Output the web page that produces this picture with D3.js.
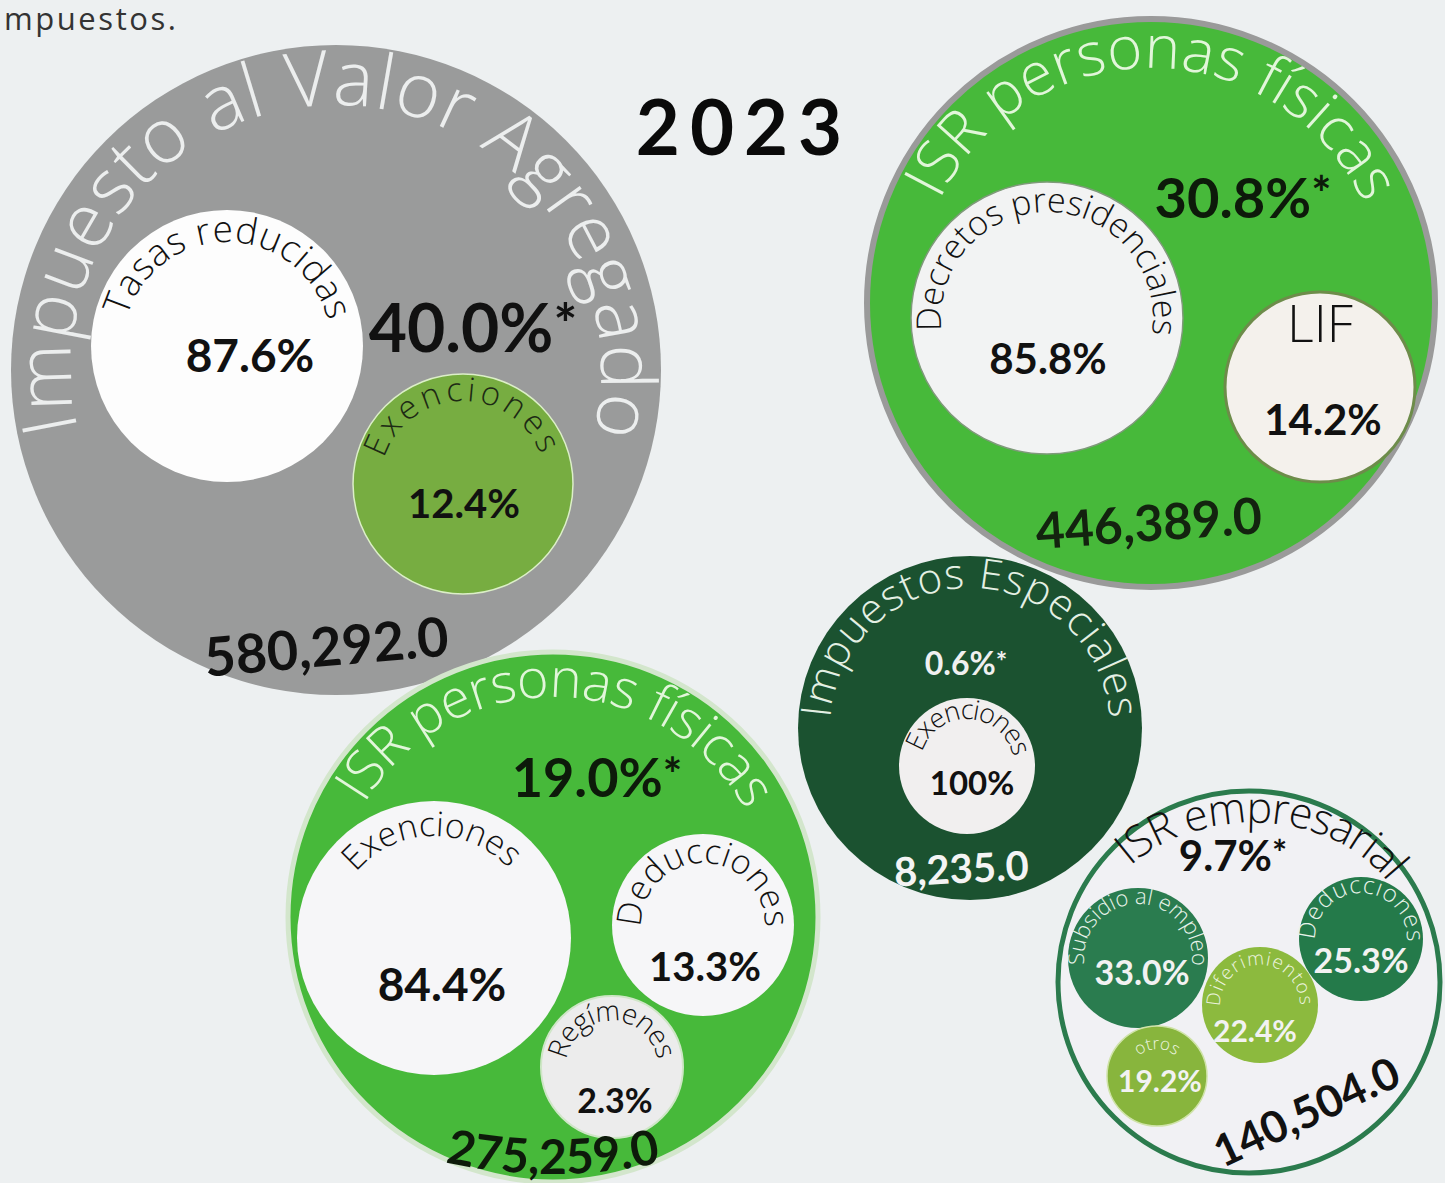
<!DOCTYPE html>
<html>
<head>
<meta charset="utf-8">
<script src="https://cdn.jsdelivr.net/npm/d3@7"></script>
<style>
  body { margin: 0; background: #edf0f1; }
  svg { display: block; }
</style>
</head>
<body>
<script>
// chart data
var groupNames = ["Impuesto al Valor Agregado", "ISR personas físicas", "ISR personas físicas", "Impuestos Especiales", "ISR empresarial"];
var groupTotals = [580292.0, 446389.0, 275259.0, 8235.0, 140504.0];
var groupShares = [40.0, 30.8, 19.0, 0.6, 9.7];
var subNames = [
    ["Tasas reducidas", "Exenciones"],
    ["Decretos presidenciales", "LIF"],
    ["Exenciones", "Deducciones", "Regímenes"],
    ["Exenciones"],
    ["Subsidio al empleo", "Deducciones", "Diferimientos", "otros"]
];
var subShares = [
    [87.6, 12.4],
    [85.8, 14.2],
    [84.4, 13.3, 2.3],
    [100],
    [33.0, 25.3, 22.4, 19.2]
];
var yearLabel = "2023";
var headText = "mpuestos.";

// layout (positions / sizes / colours)
var groupLayout = [
    {cx: 336, cy: 370, r: 325, fill: "#9a9b9b", stroke: "none", sw: 0,
     title: {rb: 265, a0: -103, a1: 104, size: 76, color: "#eceeee"},
     share: {dx: 137, dy: -18, size: 66, color: "#111"},
     total: {dx: -8, dy: 296, size: 54, color: "#111", rot: -5}},
    {cx: 1151, cy: 303, r: 284, fill: "#47b93a", stroke: "#9a9a9a", sw: 6,
     title: {rb: 235, a0: -64, a1: 65, size: 60, color: "#e2f6da"},
     share: {dx: 92, dy: -85, size: 56, color: "#0d1a0a"},
     total: {dx: -1, dy: 238, size: 50, color: "#13230f", rot: -4}},
    {cx: 553, cy: 917, r: 265, fill: "#47b93a", stroke: "#d3e6cc", sw: 5,
     title: {rb: 220, a0: -59, a1: 61, size: 54, color: "#e2f6da"},
     share: {dx: 44, dy: -120, size: 54, color: "#0d1a0a"},
     total: {dx: 0, dy: 257, size: 48, color: "#0d1a0a", curve: 500}},
    {cx: 970, cy: 728, r: 172, fill: "#1b5230", stroke: "none", sw: 0,
     title: {rb: 140, a0: -86, a1: 86, size: 42, color: "#e4f0e4"},
     share: {dx: -4, dy: -53, size: 32, color: "#f0f0f0"},
     total: {dx: -8, dy: 155, size: 40, color: "#f4f4f4", rot: -3}},
    {cx: 1249, cy: 982, r: 191, fill: "#f1f1f4", stroke: "#2b7b4d", sw: 5,
     title: {path: "M-119,-116 C-50,-176 78,-176 139,-100", size: 43, color: "#111"},
     share: {dx: -16, dy: -111, size: 42, color: "#111"},
     total: {dx: 64, dy: 144, size: 44, color: "#111", rot: -25}}
];

var subLayout = [
    [{cx: 227, cy: 346, r: 136, fill: "#fdfdfd", stroke: "none", sw: 0,
      label: {rb: 104, a0: -74, a1: 76, size: 37, color: "#111"},
      value: {dx: 23, dy: 26, size: 46, color: "#111"}},
     {cx: 463, cy: 484, r: 110, fill: "#77ad41", stroke: "#dcefc8", sw: 1.5,
      label: {rb: 83, a0: -72, a1: 69, size: 33, color: "#1d2a14"},
      value: {dx: 1, dy: 34, size: 40, color: "#111"}}],
    [{cx: 1047, cy: 318, r: 136, fill: "#f2f3f3", stroke: "#7f9a7a", sw: 1.5,
      label: {rb: 106, a0: -97, a1: 99, size: 34, color: "#111"},
      value: {dx: 1, dy: 56, size: 42, color: "#111"}},
     {cx: 1320, cy: 387, r: 95, fill: "#f4f1ec", stroke: "#6d8c4a", sw: 3,
      label: {straight: true, dx: 0, dy: -45, size: 52, color: "#111"},
      value: {dx: 3, dy: 48, size: 42, color: "#111"}}],
    [{cx: 434, cy: 938, r: 137, fill: "#f6f6f8", stroke: "none", sw: 0,
      label: {rb: 102, a0: -50, a1: 47, size: 34, color: "#111"},
      value: {dx: 8, dy: 63, size: 46, color: "#111"}},
     {cx: 703, cy: 925, r: 91, fill: "#f6f6f8", stroke: "none", sw: 0,
      label: {rb: 62, a0: -92, a1: 92, size: 34, color: "#111"},
      value: {dx: 2, dy: 56, size: 40, color: "#111"}},
     {cx: 612, cy: 1067, r: 71, fill: "#ececec", stroke: "#cfe6c7", sw: 2,
      label: {rb: 46, a0: -81, a1: 81, size: 28, color: "#111"},
      value: {dx: 3, dy: 46, size: 34, color: "#111"}}],
    [{cx: 967, cy: 766, r: 68, fill: "#f1efef", stroke: "none", sw: 0,
      label: {rb: 47, a0: -73, a1: 79, size: 27, color: "#111"},
      value: {dx: 5, dy: 29, size: 33, color: "#111"}}],
    [{cx: 1138, cy: 958, r: 70, fill: "#2a7c4f", stroke: "none", sw: 0,
      label: {rb: 54, a0: -97, a1: 98, size: 22, color: "#e8f3ea"},
      value: {dx: 4, dy: 27, size: 34, color: "#f2f2f2"}},
     {cx: 1361, cy: 939, r: 62, fill: "#247a4a", stroke: "none", sw: 0,
      label: {rb: 46, a0: -91, a1: 93, size: 24, color: "#e8f3ea"},
      value: {dx: 0, dy: 34, size: 34, color: "#f2f2f2"}},
     {cx: 1260, cy: 1005, r: 58, fill: "#8cba3e", stroke: "none", sw: 0,
      label: {rb: 40, a0: -92, a1: 90, size: 19, color: "#eef5e0"},
      value: {dx: -5, dy: 37, size: 30, color: "#f2f2f2"}},
     {cx: 1157, cy: 1076, r: 50, fill: "#88b53d", stroke: "#cfe3a8", sw: 1.5,
      label: {rb: 27, a0: -42, a1: 42, size: 17, color: "#eef5e0"},
      value: {dx: 3, dy: 16, size: 30, color: "#f2f2f2"}}]
];

var width = 1445, height = 1183;
var thinFont = "'Open Sans', Lato, sans-serif";
var boldFont = "Lato, 'Open Sans', sans-serif";

var fmtTotal = d3.format(",.1f");
var fmtShare = d3.format(".1f");
function fmtPct(v) { return v === 100 ? "100%" : fmtShare(v) + "%"; }

var svg = d3.select("body").append("svg")
    .attr("width", width)
    .attr("height", height);
var defs = svg.append("defs");

svg.append("rect").attr("width", width).attr("height", height).attr("fill", "#edf0f1");

var pid = 0;
// full circle starting at the bottom, clockwise (left, top, right)
function circlePath(cx, cy, rb) {
    return "M" + cx + "," + (cy + rb) +
        " A" + rb + "," + rb + " 0 1 1 " + cx + "," + (cy - rb) +
        " A" + rb + "," + rb + " 0 1 1 " + cx + "," + (cy + rb);
}

function arcText(g, cx, cy, spec, txt) {
    var id = "arc" + (pid++);
    var t = g.append("text")
        .attr("font-family", thinFont)
        .attr("font-weight", 300)
        .attr("font-size", spec.size)
        .attr("fill", spec.color);
    if (spec.path) {
        var p = defs.append("path").attr("id", id)
            .attr("d", spec.path)
            .attr("transform", "translate(" + cx + "," + cy + ")");
        var len = p.node().getTotalLength();
        t.append("textPath").attr("href", "#" + id)
            .attr("startOffset", 0)
            .attr("textLength", len)
            .attr("lengthAdjust", "spacing")
            .text(txt);
        return;
    }
    defs.append("path").attr("id", id).attr("d", circlePath(cx, cy, spec.rb));
    var mid = (spec.a0 + spec.a1) / 2;
    t.attr("text-anchor", "middle")
        .append("textPath").attr("href", "#" + id)
        .attr("startOffset", (50 + mid / 3.6) + "%")
        .attr("textLength", spec.rb * (spec.a1 - spec.a0) * Math.PI / 180)
        .attr("lengthAdjust", "spacing")
        .text(txt);
}

function valueText(g, x, y, spec, txt) {
    return g.append("text")
        .attr("x", x).attr("y", y)
        .attr("text-anchor", "middle")
        .attr("font-family", boldFont)
        .attr("font-weight", 700)
        .attr("font-size", spec.size)
        .attr("fill", spec.color)
        .text(txt);
}

// header text
svg.append("text")
    .attr("x", 4).attr("y", 30)
    .attr("font-family", thinFont).attr("font-weight", 400)
    .attr("font-size", 31).attr("fill", "#333")
    .attr("textLength", 172).attr("lengthAdjust", "spacing")
    .text(headText);

svg.append("text")
    .attr("x", 744).attr("y", 155)
    .attr("text-anchor", "middle")
    .attr("font-family", boldFont).attr("font-weight", 700)
    .attr("font-size", 76).attr("letter-spacing", 10)
    .attr("fill", "#0a0a0a")
    .text(yearLabel);

groupNames.forEach(function (name, i) {
    var L = groupLayout[i];
    var g = svg.append("g").attr("class", "group");

    g.append("circle")
        .attr("cx", L.cx).attr("cy", L.cy).attr("r", L.r)
        .attr("fill", L.fill)
        .attr("stroke", L.stroke).attr("stroke-width", L.sw);

    arcText(g, L.cx, L.cy, L.title, name);

    // sub bubbles
    subNames[i].forEach(function (sn, j) {
        var S = subLayout[i][j];
        g.append("circle")
            .attr("cx", S.cx).attr("cy", S.cy).attr("r", S.r)
            .attr("fill", S.fill)
            .attr("stroke", S.stroke).attr("stroke-width", S.sw);
        if (S.label.straight) {
            g.append("text")
                .attr("x", S.cx + S.label.dx).attr("y", S.cy + S.label.dy)
                .attr("text-anchor", "middle")
                .attr("font-family", thinFont).attr("font-weight", 300)
                .attr("font-size", S.label.size).attr("fill", S.label.color)
                .text(sn);
        } else {
            arcText(g, S.cx, S.cy, S.label, sn);
        }
        valueText(g, S.cx + S.value.dx, S.cy + S.value.dy, S.value, fmtPct(subShares[i][j]));
    });

    // share of total, with asterisk
    var st = valueText(g, L.cx + L.share.dx, L.cy + L.share.dy, L.share, fmtPct(groupShares[i]));
    st.append("tspan").attr("font-size", L.share.size * 0.85).attr("dy", -L.share.size * 0.12).text("*");

    // total amount
    var T = L.total;
    var tx = L.cx + T.dx, ty = L.cy + T.dy;
    if (T.curve) {
        var R = T.curve, ph = 0.35;
        var ccy = ty - R;
        var id = "arc" + (pid++);
        defs.append("path").attr("id", id)
            .attr("d", "M" + (tx - R * Math.sin(ph)) + "," + (ccy + R * Math.cos(ph)) +
                " A" + R + "," + R + " 0 0 0 " + (tx + R * Math.sin(ph)) + "," + (ccy + R * Math.cos(ph)));
        g.append("text")
            .attr("text-anchor", "middle")
            .attr("font-family", boldFont).attr("font-weight", 700)
            .attr("font-size", T.size).attr("fill", T.color)
            .append("textPath").attr("href", "#" + id)
            .attr("startOffset", "50%")
            .text(fmtTotal(groupTotals[i]));
    } else {
        valueText(g, tx, ty, T, fmtTotal(groupTotals[i]))
            .attr("transform", "rotate(" + T.rot + "," + tx + "," + ty + ")");
    }
});
</script>
</body>
</html>
